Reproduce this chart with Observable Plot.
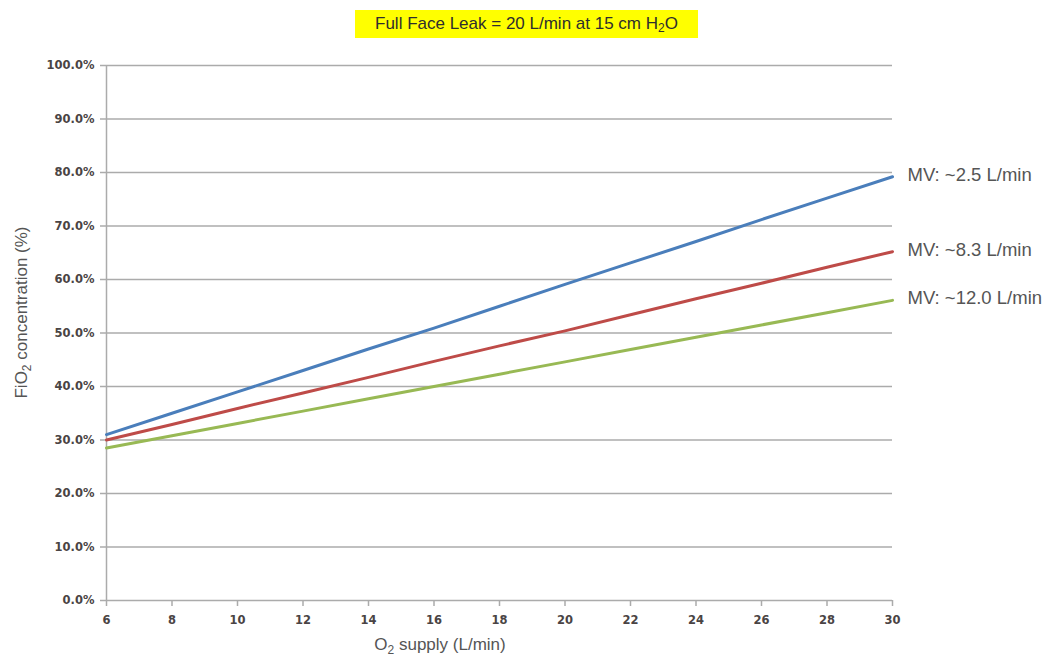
<!DOCTYPE html>
<html>
<head>
<meta charset="utf-8">
<script src="https://cdn.jsdelivr.net/npm/d3@7"></script>
<script src="https://cdn.jsdelivr.net/npm/@observablehq/plot@0.6"></script>
<style>
  body { margin: 0; background: #fff; }
  #title { position: relative; height: 45px; }
  #title span {
    position: absolute; left: 355px; top: 10px; width: 343px; height: 28px;
    background: #ffff00; color: #2e2e2e; text-align: center; line-height: 28px;
    font-family: "Liberation Sans", Arial, sans-serif; font-size: 17px;
  }
  #title sub { font-size: 12px; vertical-align: -3px; line-height: 0; }
  #chart svg { display: block; }
</style>
</head>
<body>
<div id="title"><span>Full Face Leak = 20 L/min at 15 cm H<sub>2</sub>O</span></div>
<div id="chart"></div>
<script>
// ---- data ----
const xTicks = [6, 8, 10, 12, 14, 16, 18, 20, 22, 24, 26, 28, 30];
const yTicks = [0, 10, 20, 30, 40, 50, 60, 70, 80, 90, 100];
const o2Supply = [6, 8, 10, 12, 14, 16, 18, 20, 22, 24, 26, 28, 30];
const seriesNames = ["MV: ~2.5 L/min", "MV: ~8.3 L/min", "MV: ~12.0 L/min"];
const fio2_mv2_5 = [31.0, 35.0, 39.0, 43.0, 47.0, 50.9, 55.0, 59.1, 63.1, 67.1, 71.2, 75.2, 79.2];
const fio2_mv8_3 = [30.0, 32.9, 35.9, 38.8, 41.7, 44.7, 47.6, 50.4, 53.4, 56.4, 59.3, 62.3, 65.2];
const fio2_mv12_0 = [28.5, 30.8, 33.1, 35.4, 37.7, 40.0, 42.3, 44.6, 46.9, 49.2, 51.5, 53.8, 56.1];
const seriesColors = ["#4a7ebb", "#be4b48", "#98b954"];

const seriesValues = [fio2_mv2_5, fio2_mv8_3, fio2_mv12_0];
const data = seriesNames.flatMap((name, i) =>
  o2Supply.map((x, j) => ({series: name, x, y: seriesValues[i][j]})));
const lastPoints = seriesNames.map((name, i) => ({
  series: name, x: o2Supply[o2Supply.length - 1], y: seriesValues[i][o2Supply.length - 1]
}));

const tickFont = "'DejaVu Sans', sans-serif";
const labelFont = "'Liberation Sans', Arial, sans-serif";

const plot = Plot.plot({
  width: 1047,
  height: 619,
  marginLeft: 106,
  marginRight: 155,
  marginTop: 20,
  marginBottom: 64,
  x: {domain: [6, 30], label: null},
  y: {domain: [0, 100], label: null},
  color: {domain: seriesNames, range: seriesColors},
  style: {fontFamily: tickFont, background: "#fff"},
  marks: [
    Plot.gridY(yTicks, {stroke: "#ababab", strokeOpacity: 1, strokeWidth: 1.5}),
    Plot.ruleX([6], {stroke: "#ababab", strokeWidth: 1.5}),
    Plot.axisY(yTicks, {
      tickSize: 6, tickPadding: 6, stroke: "#ababab", strokeWidth: 1.5,
      fill: "#4a4444", fontSize: 11.5, fontWeight: "bold",
      tickFormat: d => d.toFixed(1) + "%", label: null
    }),
    Plot.axisX(xTicks, {
      tickSize: 6, tickPadding: 9, stroke: "#ababab", strokeWidth: 1.5,
      fill: "#4a4444", fontSize: 11.5, fontWeight: "bold",
      tickFormat: d => String(d), label: null
    }),
    Plot.line(data, {x: "x", y: "y", stroke: "series", strokeWidth: 3}),
    Plot.text(lastPoints, {
      x: "x", y: "y", text: "series", dx: 15, dy: -2, textAnchor: "start",
      fill: "#555555", fontSize: 18.5, fontFamily: labelFont
    })
  ]
});
document.getElementById("chart").appendChild(plot);

// axis titles with true subscripts
const svg = d3.select(plot);
const ys = plot.scale("y");
const xt = svg.append("text")
  .attr("x", 440).attr("y", 605)
  .attr("text-anchor", "middle")
  .attr("fill", "#555555").attr("font-family", labelFont).attr("font-size", 17);
xt.append("tspan").text("O");
xt.append("tspan").attr("font-size", 12).attr("dy", 4).text("2");
xt.append("tspan").attr("dy", -4).text(" supply (L/min)");

const yt = svg.append("text")
  .attr("transform", `translate(27, ${(ys.apply(0) + ys.apply(100)) / 2 - 20}) rotate(-90)`)
  .attr("text-anchor", "middle")
  .attr("fill", "#555555").attr("font-family", labelFont).attr("font-size", 17);
yt.append("tspan").text("FiO");
yt.append("tspan").attr("font-size", 12).attr("dy", 4).text("2");
yt.append("tspan").attr("dy", -4).text(" concentration (%)");
</script>
</body>
</html>
